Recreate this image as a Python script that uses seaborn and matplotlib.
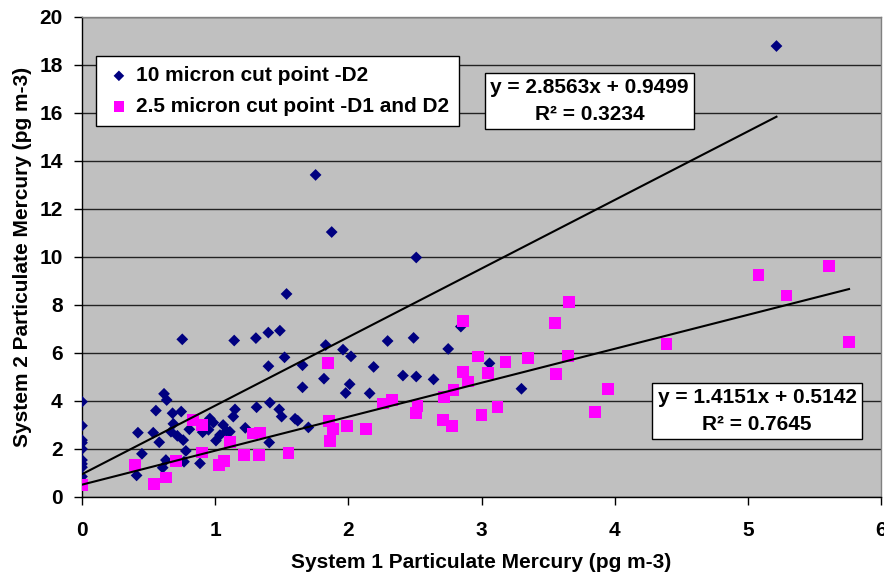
import matplotlib
matplotlib.use("Agg")
import matplotlib.pyplot as plt
import seaborn as sns
import numpy as np
import pandas as pd

# ========================================
# Data
# ========================================
pm10_x = [0, 0, 0, 0, 0, 0, 0, 0, 0,
          0.42, 0.41, 0.45, 0.535, 0.555, 0.58, 0.616, 0.636, 0.606, 0.63,
          0.668, 0.686, 0.68, 0.745, 0.716, 0.76, 0.753, 0.766, 0.78, 0.806,
          0.886, 0.906, 0.936, 0.96, 0.986, 0.95, 1.006, 1.036, 1.06, 1.086,
          1.11, 1.136, 1.149, 1.143, 1.226, 1.306, 1.311, 1.399, 1.40, 1.406,
          1.411, 1.486, 1.481, 1.499, 1.521, 1.536, 1.60, 1.62, 1.656, 1.656,
          1.70, 1.754, 1.817, 1.83, 1.875, 1.96, 1.98, 2.01, 2.02, 2.19,
          2.16, 2.295, 2.41, 2.49, 2.51, 2.51, 2.64, 2.75, 2.845, 3.06,
          3.30, 5.215]
pm10_y = [3.97, 2.97, 2.37, 2.26, 2.0, 1.54, 1.38, 1.24, 0.85,
          2.68, 0.9, 1.8, 2.68, 3.6, 2.28, 4.3, 4.04, 1.22, 1.54,
          2.72, 3.05, 3.49, 3.56, 2.55, 2.37, 6.57, 1.47, 1.92, 2.82,
          1.4, 2.7, 3.07, 3.27, 3.1, 2.8, 2.35, 2.58, 3.0, 2.75,
          2.72, 3.35, 3.65, 6.52, 2.88, 6.62, 3.74, 6.85, 5.45, 2.27,
          3.93, 6.93, 3.65, 3.35, 5.82, 8.46, 3.26, 3.18, 5.49, 4.57,
          2.9, 13.42, 4.93, 6.33, 11.04, 6.14, 4.33, 4.7, 5.86, 5.42,
          4.32, 6.5, 5.06, 6.63, 5.02, 9.98, 4.9, 6.17, 7.1, 5.57,
          4.51, 18.79]

pm25_x = [0, 0.40, 0.54, 0.63, 0.706, 0.836, 0.90, 0.90, 1.03, 1.066,
          1.11, 1.214, 1.28, 1.336, 1.33, 1.55, 1.85, 1.857, 1.887, 1.86,
          1.99, 2.13, 2.26, 2.33, 2.51, 2.52, 2.71, 2.78, 2.72, 2.79,
          2.86, 2.90, 2.86, 2.975, 3.0, 3.05, 3.12, 3.18, 3.35, 3.55,
          3.56, 3.65, 3.66, 3.85, 3.95, 4.39, 5.08, 5.29, 5.61, 5.76]
pm25_y = [0.49, 1.33, 0.53, 0.81, 1.5, 3.2, 3.0, 1.85, 1.33, 1.5,
          2.28, 1.75, 2.65, 2.69, 1.75, 1.82, 5.57, 3.18, 2.82, 2.33,
          2.97, 2.83, 3.9, 4.04, 3.51, 3.79, 3.2, 2.96, 4.18, 4.46,
          5.2, 4.81, 7.33, 5.85, 3.42, 5.18, 3.74, 5.61, 5.79, 7.24,
          5.13, 5.87, 8.14, 3.54, 4.5, 6.36, 9.25, 8.4, 9.62, 6.46]

# trendline fits as printed on the chart
fit_slopes = [2.8563, 1.4151]
fit_intercepts = [0.9499, 0.5142]
fit_r2 = [0.3234, 0.7645]

series_labels = ['10 micron cut point -D2', '2.5 micron cut point -D1 and D2']

# ========================================
# Plot
# ========================================
plt.rcParams['font.family'] = ['Liberation Sans', 'DejaVu Sans']
plt.rcParams['font.weight'] = 'bold'
fs = 15

fig = plt.figure(figsize=(8.84, 5.77), dpi=100)
ax = fig.add_axes([82 / 884, 1 - 497 / 577, 799 / 884, 480 / 577])
ax.set_facecolor('#C0C0C0')

df10 = pd.DataFrame({'x': pm10_x, 'y': pm10_y})
df25 = pd.DataFrame({'x': pm25_x, 'y': pm25_y})

sns.scatterplot(data=df10, x='x', y='y', marker='D', s=36, color='#000080',
                edgecolor='none', label=series_labels[0], ax=ax, zorder=3)
sns.scatterplot(data=df25, x='x', y='y', marker='s', s=72, color='#FF00FF',
                edgecolor='none', label=series_labels[1], ax=ax, zorder=4)

# trendlines from x=0 to the last point of each series
for xs, m, b in zip([pm10_x, pm25_x], fit_slopes, fit_intercepts):
    xx = np.array([0, max(xs)])
    ax.plot(xx, m * xx + b, color='black', lw=1.5, zorder=5)

ax.set_xlim(0, 6)
ax.set_ylim(0, 20)
ax.set_xticks(np.arange(0, 7, 1))
ax.set_yticks(np.arange(0, 21, 2))
ax.yaxis.grid(True, color='#222222', lw=1)
ax.set_axisbelow(True)
ax.tick_params(axis='x', direction='out', length=6, width=1, pad=11, labelsize=fs)
ax.tick_params(axis='y', direction='out', length=6, width=1, pad=8, labelsize=fs)
for lab in ax.get_xticklabels() + ax.get_yticklabels():
    lab.set_fontweight('bold')

for side in ['left', 'bottom']:
    ax.spines[side].set_color('black')
    ax.spines[side].set_linewidth(1)
for side in ['top', 'right']:
    ax.spines[side].set_color('#808080')
    ax.spines[side].set_linewidth(1)

ax.set_xlabel('System 1 Particulate Mercury (pg m-3)', fontsize=fs,
              fontweight='bold', labelpad=10)
ax.set_ylabel('System 2 Particulate Mercury (pg m-3)', fontsize=fs,
              fontweight='bold', labelpad=5)

leg = ax.legend(loc='upper left', bbox_to_anchor=(0.0175, 0.919), fontsize=fs,
                frameon=True, fancybox=False, shadow=False, borderpad=0.5,
                labelspacing=0.55, handletextpad=0.2, handlelength=1.2,
                markerscale=0.9, borderaxespad=0)
leg.get_frame().set_edgecolor('black')
leg.get_frame().set_linewidth(1)
leg.get_frame().set_facecolor('white')
leg.get_frame().set_alpha(1)
for t in leg.get_texts():
    t.set_fontweight('bold')

# equation boxes
box_pos = [(3.81, 16.5), (5.07, 3.58)]
for (bx, by), m, b, r2 in zip(box_pos, fit_slopes, fit_intercepts, fit_r2):
    ax.text(bx, by, f'y = {m:.4f}x + {b:.4f}\nR² = {r2:.4f}', ha='center', va='center',
            fontsize=fs, fontweight='bold', linespacing=1.55, zorder=6,
            bbox=dict(boxstyle='square,pad=0.25', facecolor='white', edgecolor='black', lw=1))

plt.savefig('out.png', dpi=100)
